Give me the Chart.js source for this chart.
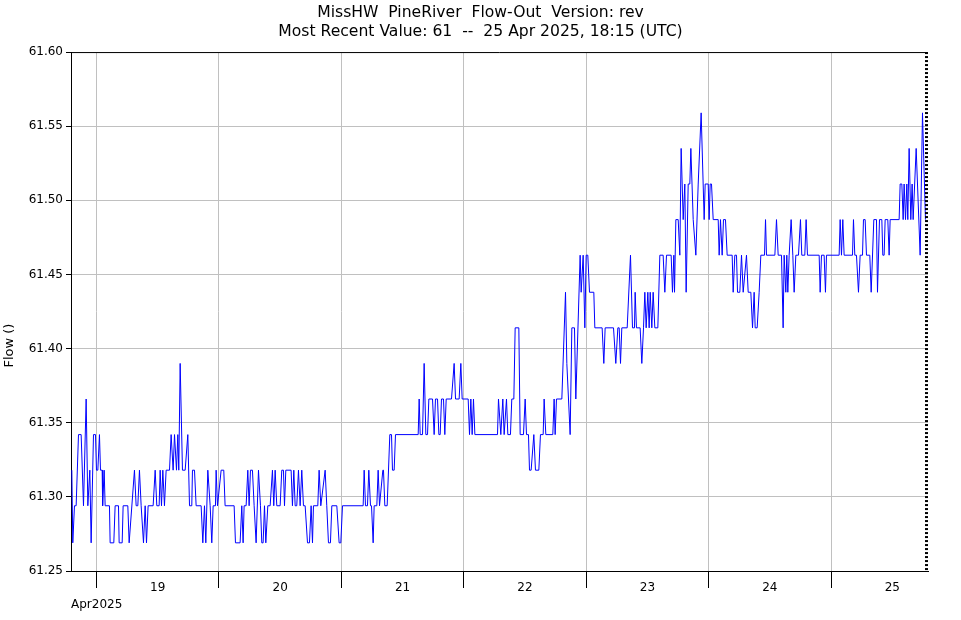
<!DOCTYPE html>
<html lang="en">
<head>
<meta charset="UTF-8">
<title>MissHW PineRiver Flow-Out</title>
<script src="https://cdn.jsdelivr.net/npm/chart.js"></script>
<style>
  body { margin: 0; background: #fff; }
  #wrap { width: 961px; height: 620px; }
</style>
</head>
<body>
<div id="wrap"><canvas id="flowChart" width="961" height="620"></canvas></div>
<script>
// time in hours since 18 Apr 2025 00:00 UTC, flow
const hours = [
  19.16, 19.35, 19.68, 20.01, 20.47, 20.99, 21.45, 21.97, 22.30, 22.69,
  22.95, 23.41, 23.80, 23.99, 24.26, 24.58, 24.78, 25.11, 25.20, 25.50,
  25.69, 26.54, 26.67, 27.39, 27.65, 28.31, 28.44, 29.03, 29.22, 30.14,
  30.40, 31.44, 31.77, 32.10, 32.42, 32.75, 33.21, 33.54, 33.80, 34.12,
  35.10, 35.50, 35.82, 36.28, 36.48, 36.74, 37.00, 37.32, 37.65, 38.31,
  38.63, 39.02, 39.29, 39.68, 39.94, 40.13, 40.40, 40.85, 41.38, 41.90,
  42.23, 42.68, 42.81, 43.21, 43.53, 44.51, 44.84, 45.17, 45.43, 45.82,
  46.28, 46.60, 46.87, 47.32, 47.45, 47.72,
  48.43, 48.95, 49.21, 50.98, 51.24, 52.15, 52.48, 52.74, 52.94, 53.33,
  53.66, 53.92, 54.18, 54.57, 54.90, 55.29, 55.75, 56.14, 56.40, 56.66,
  56.93, 57.19, 57.58, 58.04, 58.49, 58.75, 59.02, 59.34, 60.00, 60.32,
  60.65, 60.85, 61.11, 62.15, 62.41, 62.68, 62.94, 63.26, 63.59, 63.92,
  64.24, 64.57, 64.90, 65.36, 65.75, 66.07, 66.34, 66.53, 67.38, 67.64,
  67.97, 68.82, 69.14, 69.47, 69.86, 70.13, 71.11, 71.56, 71.89, 72.22,
  76.27, 76.47, 76.73, 77.12, 77.38, 77.71, 77.91, 78.23, 78.43, 78.95,
  79.21, 79.48, 80.13, 80.26, 80.52, 80.98, 81.50, 81.83, 82.02, 82.35,
  82.61, 87.06, 87.25, 87.45, 87.91, 88.23, 88.56, 88.89, 89.15, 89.87,
  90.19, 90.45, 90.85, 91.11, 91.37, 91.63, 92.02, 92.28, 92.55, 93.59,
  94.11, 94.38, 95.09, 95.42, 95.68, 96.86, 97.12, 97.38, 97.64, 97.90,
  98.17, 102.61, 102.80,
  103.26, 103.65, 103.91, 104.37, 104.63, 105.15, 105.41, 105.81, 106.07, 106.79,
  107.05, 107.70, 108.03, 108.29, 108.68, 108.88, 109.20, 109.73, 110.05, 110.71,
  111.03, 111.56, 111.75, 112.08, 113.45, 113.71, 113.91, 114.17, 115.22, 115.94,
  116.20, 116.85, 117.18, 117.70, 117.96, 118.81, 119.01, 119.40, 119.73, 119.99,
  120.31, 120.64, 121.49, 121.69, 123.12, 123.45, 123.71, 125.35, 125.80, 126.20,
  126.46, 126.72, 126.98, 128.03, 128.68, 129.07, 129.46, 129.59, 129.85, 130.57,
  130.90, 131.23,
  131.49, 131.75, 132.08, 132.34, 132.54, 132.86, 133.12, 133.45, 134.04, 134.43,
  135.08, 135.41, 135.74, 136.65, 136.91, 137.18, 137.31, 137.57, 138.03, 138.35,
  138.61, 139.01, 139.33, 139.59, 139.99, 140.31, 140.51, 140.97, 141.49, 141.95,
  142.53, 143.12, 143.32, 143.91, 144.10, 144.30, 144.56, 144.89, 145.87, 146.06,
  146.32, 146.65, 146.91, 147.30, 147.63, 148.61, 148.81, 149.13, 149.46, 149.66,
  150.11, 150.44, 150.77, 151.42, 151.75, 152.27, 152.60, 152.92, 153.12, 153.51,
  153.90, 154.23, 154.95, 155.15, 155.34, 156.98, 157.30, 157.63,
  158.28, 158.60, 158.80, 159.13, 159.32, 159.52, 159.78, 160.17, 160.50, 160.76,
  161.09, 161.61, 162.00, 162.26, 162.85, 163.11, 163.37, 165.66, 165.86, 166.12,
  166.64, 166.90, 167.10, 169.58, 169.78, 170.04, 170.30, 170.56, 172.20, 172.39,
  172.65, 172.98, 173.37, 173.70, 174.16, 174.35, 174.68, 174.94, 175.59, 175.86,
  176.38, 176.90, 177.10, 177.49, 177.95, 178.14, 178.40, 178.60, 179.12, 179.38,
  179.58, 181.34, 181.54, 181.87, 182.13, 182.32, 182.59, 182.85, 183.04, 183.30,
  183.63, 183.89, 184.09, 184.68, 185.46, 185.92, 186.50
];

const flow = [
  61.318, 61.269, 61.294, 61.294, 61.342, 61.342, 61.294, 61.366, 61.294, 61.318,
  61.269, 61.342, 61.342, 61.318, 61.318, 61.342, 61.318, 61.318, 61.294, 61.318,
  61.294, 61.294, 61.269, 61.269, 61.294, 61.294, 61.269, 61.269, 61.294, 61.294,
  61.269, 61.318, 61.294, 61.294, 61.318, 61.294, 61.269, 61.294, 61.269, 61.294,
  61.294, 61.318, 61.294, 61.294, 61.318, 61.294, 61.318, 61.294, 61.318, 61.318,
  61.342, 61.318, 61.342, 61.318, 61.342, 61.318, 61.390, 61.318, 61.318, 61.342,
  61.294, 61.294, 61.318, 61.318, 61.294, 61.294, 61.269, 61.294, 61.269, 61.318,
  61.294, 61.269, 61.294, 61.294, 61.318, 61.294,
  61.318, 61.318, 61.294, 61.294, 61.269, 61.269, 61.294, 61.269, 61.294, 61.294,
  61.318, 61.294, 61.318, 61.318, 61.294, 61.269, 61.318, 61.294, 61.269, 61.269,
  61.294, 61.269, 61.294, 61.294, 61.318, 61.294, 61.318, 61.294, 61.294, 61.318,
  61.318, 61.294, 61.318, 61.318, 61.294, 61.318, 61.294, 61.294, 61.318, 61.294,
  61.318, 61.294, 61.294, 61.269, 61.269, 61.294, 61.269, 61.294, 61.294, 61.318,
  61.294, 61.318, 61.294, 61.269, 61.269, 61.294, 61.294, 61.269, 61.269, 61.294,
  61.294, 61.318, 61.294, 61.294, 61.318, 61.294, 61.294, 61.269, 61.294, 61.294,
  61.318, 61.294, 61.318, 61.318, 61.294, 61.294, 61.342, 61.342, 61.318, 61.318,
  61.342, 61.342, 61.366, 61.342, 61.342, 61.390, 61.342, 61.342, 61.366, 61.366,
  61.342, 61.366, 61.366, 61.342, 61.342, 61.366, 61.366, 61.342, 61.366, 61.366,
  61.390, 61.366, 61.366, 61.390, 61.366, 61.366, 61.342, 61.366, 61.342, 61.366,
  61.342, 61.342, 61.366,
  61.342, 61.366, 61.342, 61.366, 61.342, 61.342, 61.366, 61.366, 61.414, 61.414,
  61.342, 61.342, 61.366, 61.342, 61.342, 61.318, 61.318, 61.342, 61.318, 61.318,
  61.342, 61.342, 61.366, 61.342, 61.342, 61.366, 61.342, 61.366, 61.366, 61.438,
  61.390, 61.342, 61.414, 61.414, 61.366, 61.463, 61.438, 61.463, 61.414, 61.463,
  61.463, 61.438, 61.438, 61.414, 61.414, 61.390, 61.414, 61.414, 61.390, 61.414,
  61.414, 61.390, 61.414, 61.414, 61.463, 61.414, 61.414, 61.438, 61.414, 61.414,
  61.390, 61.414,
  61.438, 61.414, 61.438, 61.414, 61.438, 61.414, 61.438, 61.414, 61.414, 61.463,
  61.463, 61.438, 61.463, 61.463, 61.438, 61.463, 61.438, 61.487, 61.487, 61.463,
  61.535, 61.487, 61.511, 61.438, 61.511, 61.511, 61.535, 61.487, 61.463, 61.511,
  61.559, 61.487, 61.511, 61.511, 61.487, 61.511, 61.511, 61.487, 61.487, 61.463,
  61.487, 61.463, 61.487, 61.487, 61.463, 61.463, 61.438, 61.463, 61.463, 61.438,
  61.438, 61.463, 61.438, 61.463, 61.438, 61.438, 61.414, 61.438, 61.414, 61.414,
  61.438, 61.463, 61.463, 61.487, 61.463, 61.463, 61.487, 61.463,
  61.463, 61.414, 61.463, 61.438, 61.463, 61.438, 61.463, 61.487, 61.463, 61.438,
  61.463, 61.463, 61.487, 61.463, 61.463, 61.487, 61.463, 61.463, 61.438, 61.463,
  61.463, 61.438, 61.463, 61.463, 61.487, 61.463, 61.487, 61.463, 61.463, 61.487,
  61.463, 61.463, 61.438, 61.463, 61.463, 61.487, 61.487, 61.463, 61.463, 61.438,
  61.487, 61.487, 61.438, 61.487, 61.487, 61.463, 61.463, 61.487, 61.487, 61.463,
  61.487, 61.487, 61.511, 61.511, 61.487, 61.511, 61.487, 61.511, 61.487, 61.535,
  61.487, 61.511, 61.487, 61.535, 61.463, 61.559, 61.487
];

const days = [19, 20, 21, 22, 23, 24, 25];
const flowTicks = [61.25, 61.30, 61.35, 61.40, 61.45, 61.50, 61.55, 61.60];
const titleLines = [
  'MissHW  PineRiver  Flow-Out  Version: rev',
  'Most Recent Value: 61  --  25 Apr 2025, 18:15 (UTC)'
];
const monthLabel = 'Apr2025';
const yLabel = 'Flow ()';
const xStart = 19;   // 18 Apr 19:00
const xEnd = 187;    // 25 Apr 19:00

const FONT = 'DejaVu Sans';
const points = hours.map((h, i) => ({ x: h, y: flow[i] }));

// hours since 18 Apr for the start of a day
const dayStart = d => (d - 18) * 24;
const isBoundary = v => v % 24 === 0;

// top border + dotted right edge, like the original plot frame
const framePlugin = {
  id: 'frame',
  afterDatasetsDraw(chart) {
    const { ctx, chartArea: a } = chart;
    ctx.save();
    ctx.strokeStyle = '#000';
    ctx.lineWidth = 1;
    ctx.beginPath();
    ctx.moveTo(a.left, a.top + 0.5);
    ctx.lineTo(a.right, a.top + 0.5);
    ctx.stroke();
    ctx.lineWidth = 3;
    ctx.setLineDash([2, 2]);
    ctx.beginPath();
    ctx.moveTo(a.right - 1.5, a.top);
    ctx.lineTo(a.right - 1.5, a.bottom);
    ctx.stroke();
    ctx.restore();
  }
};

// y axis title sits a bit below the middle in the original
const yTitlePlugin = {
  id: 'yTitle',
  afterDraw(chart) {
    const { ctx, chartArea: a } = chart;
    ctx.save();
    ctx.translate(10, (a.top + a.bottom) / 2 + 34);
    ctx.rotate(-Math.PI / 2);
    ctx.font = '13px "' + FONT + '"';
    ctx.fillStyle = '#000';
    ctx.textAlign = 'center';
    ctx.textBaseline = 'middle';
    ctx.fillText(yLabel, 0, 0);
    ctx.restore();
  }
};

new Chart(document.getElementById('flowChart'), {
  type: 'line',
  data: {
    datasets: [{
      data: points,
      borderColor: '#0000ff',
      borderWidth: 1,
      pointRadius: 0,
      tension: 0,
      fill: false
    }]
  },
  options: {
    responsive: false,
    animation: false,
    devicePixelRatio: 1,
    layout: { padding: 0 },
    plugins: {
      legend: { display: false },
      tooltip: { enabled: false },
      title: {
        display: true,
        text: titleLines,
        color: '#000',
        font: { family: FONT, size: 15.6, weight: 'normal', lineHeight: 1.22 },
        padding: { top: 3, bottom: 11 }
      }
    },
    scales: {
      x: {
        type: 'linear',
        min: xStart,
        max: xEnd,
        afterBuildTicks: s => {
          const t = [];
          days.forEach(d => {
            t.push({ value: dayStart(d) });
            t.push({ value: dayStart(d) + 12 });
          });
          s.ticks = t;
        },
        afterFit: s => { s.height = 49; },
        ticks: {
          autoSkip: false,
          maxRotation: 0,
          padding: -7,
          color: '#000',
          font: { family: FONT, size: 12 },
          callback: v => isBoundary(v) ? '' : String(days.find(d => dayStart(d) + 12 === v))
        },
        grid: {
          color: c => (c.tick && isBoundary(c.tick.value)) ? '#c0c0c0' : 'rgba(0,0,0,0)',
          tickColor: c => (c.tick && isBoundary(c.tick.value)) ? '#000' : 'rgba(0,0,0,0)',
          tickLength: 17
        },
        border: { color: '#000' },
        title: {
          display: true,
          text: monthLabel,
          align: 'start',
          color: '#000',
          font: { family: FONT, size: 12 },
          padding: { top: 0, bottom: 8 }
        }
      },
      y: {
        min: 61.25,
        max: 61.60,
        afterBuildTicks: s => { s.ticks = flowTicks.map(v => ({ value: v })); },
        afterFit: s => { s.width = 71; },
        ticks: {
          padding: 3,
          color: '#000',
          font: { family: FONT, size: 12 },
          callback: v => v.toFixed(2)
        },
        grid: { color: '#c0c0c0', tickColor: '#000', tickLength: 5 },
        border: { color: '#000' }
      },
      // empty right-hand strip so the plot ends at the same place while the title stays centred
      yRight: {
        position: 'right',
        afterFit: s => { s.width = 33; },
        ticks: { display: false },
        grid: { display: false },
        border: { display: false }
      }
    }
  },
  plugins: [framePlugin, yTitlePlugin]
});
</script>
</body>
</html>
